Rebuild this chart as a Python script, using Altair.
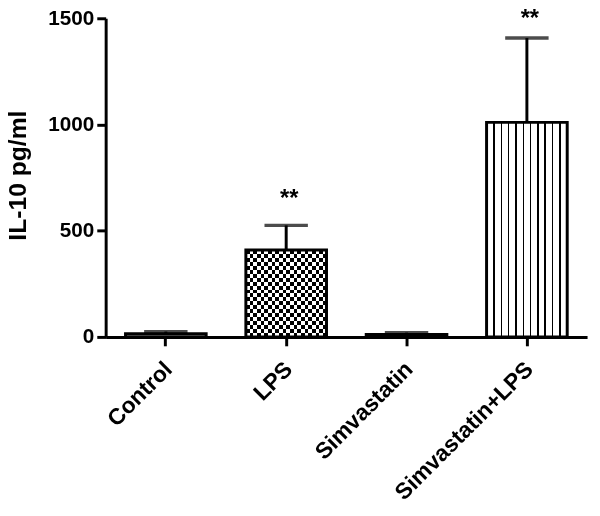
import altair as alt
import pandas as pd

groups = ["Control", "LPS", "Simvastatin", "Simvastatin+LPS"]
means = [15, 409, 12, 1010]
sems = [10, 116, 8, 397]
stars = ["", "**", "", "**"]
star_pos = [0, 648, 0, 1494]

df = pd.DataFrame({
    "group": groups,
    "mean": means,
    "upper": [m + s for m, s in zip(means, sems)],
    "star": stars,
    "star_pos": star_pos,
})

FONT = "Liberation Sans"


def alt_stripes(n, horizontal):
    stops = []
    for i in range(n):
        c = "white" if i % 2 == 0 else "black"
        stops.append(alt.GradientStop(offset=i / n, color=c))
        stops.append(alt.GradientStop(offset=(i + 1) / n, color=c))
    if horizontal:
        return alt.LinearGradient(gradient="linear", stops=stops, x1=0, y1=0, x2=0, y2=1)
    return alt.LinearGradient(gradient="linear", stops=stops, x1=0, y1=0, x2=1, y2=0)


def thin_lines(n_lines, half):
    stops = [alt.GradientStop(offset=0, color="white")]
    for k in range(1, n_lines + 1):
        c = k / (n_lines + 1)
        stops.append(alt.GradientStop(offset=c - half, color="white"))
        stops.append(alt.GradientStop(offset=c - half, color="black"))
        stops.append(alt.GradientStop(offset=c + half, color="black"))
        stops.append(alt.GradientStop(offset=c + half, color="white"))
    stops.append(alt.GradientStop(offset=1, color="white"))
    return alt.LinearGradient(gradient="linear", stops=stops, x1=0, y1=0, x2=1, y2=0)


x_enc = alt.X(
    "group:N",
    sort=groups,
    scale=alt.Scale(paddingInner=0.33, paddingOuter=0.165),
    axis=alt.Axis(
        title=None,
        labelAngle=-45,
        labelAlign="right",
        labelBaseline="top",
        labelFont=FONT,
        labelFontSize=23,
        labelFontWeight="bold",
        labelColor="black",
        labelPadding=12,
        labelOffset=-5,
        labelLimit=400,
        tickSize=9,
        tickWidth=3,
        tickColor="black",
        domainWidth=3,
        domainColor="black",
    ),
)

y_enc = alt.Y(
    "mean:Q",
    scale=alt.Scale(domain=[0, 1500], nice=False),
    axis=alt.Axis(
        title="IL-10 pg/ml",
        values=[0, 500, 1000, 1500],
        format="d",
        grid=False,
        labelFont=FONT,
        labelFontSize=21,
        labelFontWeight="bold",
        labelColor="black",
        labelPadding=3,
        tickSize=9,
        tickWidth=3,
        tickColor="black",
        domainWidth=3,
        domainColor="black",
        titleFont=FONT,
        titleFontSize=25,
        titleFontWeight="bold",
        titleColor="black",
        titleAngle=-90,
        titleAlign="center",
        titleBaseline="alphabetic",
        titleX=-81,
        titleY=159,
    ),
)

base = alt.Chart(df)

plain = base.transform_filter(
    alt.FieldOneOfPredicate(field="group", oneOf=["Control", "Simvastatin"])
).mark_bar(fill="white", stroke="black", strokeWidth=3).encode(x=x_enc, y=y_enc)

lps = base.transform_filter(alt.FieldEqualPredicate(field="group", equal="LPS"))
lps_a = lps.mark_bar(fill=alt_stripes(22, False), strokeWidth=0).encode(x=x_enc, y=y_enc)
lps_b = lps.mark_bar(fill=alt_stripes(22, True), strokeWidth=0, blend="difference").encode(x=x_enc, y=y_enc)
lps_c = lps.mark_bar(fillOpacity=0, stroke="black", strokeWidth=3).encode(x=x_enc, y=y_enc)

sl = base.transform_filter(
    alt.FieldEqualPredicate(field="group", equal="Simvastatin+LPS")
).mark_bar(fill=thin_lines(10, 0.009), stroke="black", strokeWidth=3).encode(x=x_enc, y=y_enc)

stem = base.mark_rule(color="black", strokeWidth=3).encode(
    x=alt.X("group:N", sort=groups), y="mean:Q", y2="upper:Q"
)
cap = base.mark_tick(color="black", orient="horizontal", size=44, thickness=3.5).encode(
    x=alt.X("group:N", sort=groups), y="upper:Q"
)
txt = base.transform_filter("datum.star != ''").mark_text(
    font=FONT, fontSize=24, fontWeight="bold", color="black", baseline="middle", dx=3
).encode(x=alt.X("group:N", sort=groups), y="star_pos:Q", text="star:N")

chart = alt.layer(plain, lps_a, lps_b, lps_c, sl, stem, cap, txt).properties(
    width=488,
    height=323,
    autosize=alt.AutoSizeParams(type="none"),
    padding={"left": 99, "top": 7, "right": 5, "bottom": 170},
    background="white",
).configure_view(stroke=None)

chart.save("out.html", embed_options={"renderer": "svg", "actions": False})
